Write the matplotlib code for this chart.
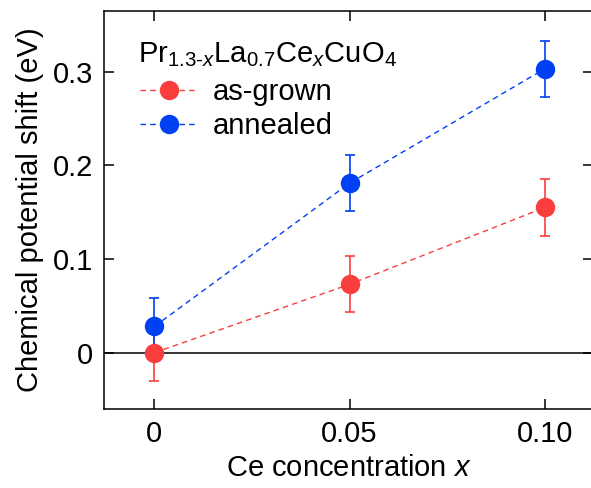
import numpy as np
import matplotlib
matplotlib.use("Agg")
import matplotlib.pyplot as plt

plt.rcParams['font.family'] = ['Liberation Sans', 'DejaVu Sans']
plt.rcParams['mathtext.fontset'] = 'custom'
plt.rcParams['mathtext.rm'] = 'Liberation Sans'
plt.rcParams['mathtext.it'] = 'Liberation Sans:italic'

# Ce concentration and measured shifts (eV)
ce_x = [0.0, 0.05, 0.10]
shift_as_grown = [0.0, 0.073, 0.155]
shift_annealed = [0.028, 0.181, 0.303]
err_as_grown = [0.03, 0.03, 0.03]
err_annealed = [0.03, 0.03, 0.03]

red = '#fa3e3e'
blue = '#0040f5'

fig = plt.figure(figsize=(5.91, 4.88), dpi=100)
ax = fig.add_axes([0.176, 0.162, 0.827, 0.816])

ax.axhline(0, color='black', lw=1.1, zorder=1)

for y, e, c, lab in [(shift_as_grown, err_as_grown, red, 'as-grown'),
                     (shift_annealed, err_annealed, blue, 'annealed')]:
    ax.errorbar(ce_x, y, yerr=e, fmt='none', ecolor=c, elinewidth=1.2,
                capsize=3.5, capthick=1.2, zorder=2)
    ax.plot(ce_x, y, ls=(0, (4, 3)), lw=1.0, color=c, marker='o',
            markersize=14, markeredgewidth=0, label=lab, zorder=3)

ax.set_xlim(-0.0129, 0.1123)
ax.set_ylim(-0.06, 0.365)
ax.set_xticks([0, 0.05, 0.10])
ax.set_xticklabels(['0', '0.05', '0.10'])
ax.set_yticks([0, 0.1, 0.2, 0.3])
ax.set_yticklabels(['0', '0.1', '0.2', '0.3'])
ax.tick_params(direction='in', length=7, width=1.1, labelsize=21,
               top=True, right=True, pad=8)
for s in ax.spines.values():
    s.set_linewidth(1.1)

ax.set_xlabel('Ce concentration $\\mathit{x}$', fontsize=21, labelpad=4)
ax.set_ylabel('Chemical potential shift (eV)', fontsize=21, labelpad=6)

# sample formula above the legend
ax.text(0.069, 0.871,
        r'$\mathrm{Pr}_{1.3\text{-}\mathit{x}}\mathrm{La}_{0.7}\mathrm{Ce}_{\mathit{x}}\mathrm{CuO}_4$',
        transform=ax.transAxes, fontsize=21, ha='left', va='baseline')

ax.legend(loc='upper left', bbox_to_anchor=(0.0737, 0.830), frameon=False,
          fontsize=21, handlelength=2.0, handletextpad=0.48,
          labelspacing=0.2, borderaxespad=0, borderpad=0)

fig.savefig('out.png', dpi=100)
